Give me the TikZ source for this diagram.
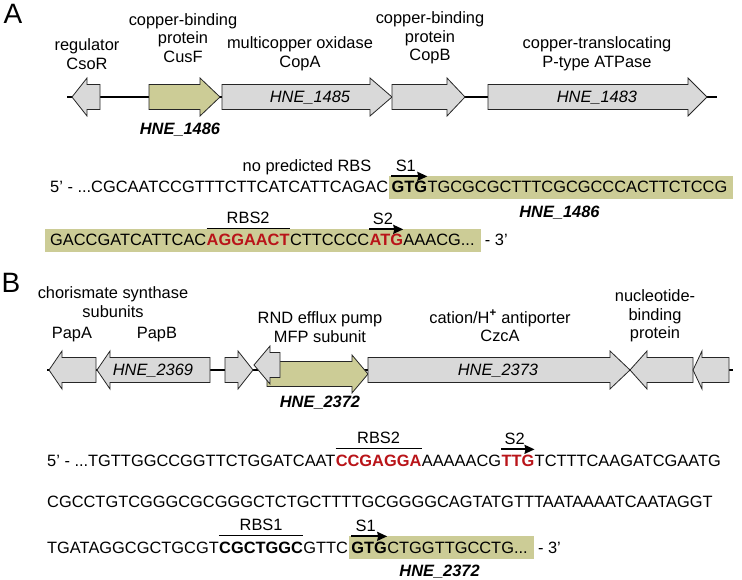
\documentclass[tikz,border=0pt]{standalone}
\usepackage{fontspec}
\setmainfont{Liberation Sans}
\usepackage{tikz}
\usetikzlibrary{
  arrows.meta,
  positioning,
  calc,
  backgrounds
}
\usepackage{xcolor}
\definecolor{geneGray}{RGB}{217,217,217}
\definecolor{geneOlive}{RGB}{204,204,150}
\definecolor{rbsRed}{RGB}{185,20,25}
\newcommand{\seqfont}{\fontsize{16.4}{18.5}\selectfont}
\tikzset{
  seq/.style={inner sep=0pt, anchor=base west, font=\seqfont},
  hit/.style={seq, font=\seqfont\bfseries, text=rbsRed},
  codon/.style={seq, font=\seqfont\bfseries},
  tag/.style={inner sep=0pt, font=\seqfont},
  desc/.style={align=center, inner sep=0pt, font=\seqfont},
  genename/.style={inner sep=0pt, font=\seqfont\itshape},
  focusname/.style={inner sep=0pt, font=\seqfont\bfseries\itshape}
}

\begin{document}
\begin{tikzpicture}[
      x=1pt, y=-1pt,
      >=Stealth,
      gene/.style={draw=black!85, line width=0.8pt, line join=miter},
      backbone/.style={line width=1.4pt},
      rbsbar/.style={line width=1.4pt},
      startarrow/.style={line width=1.8pt, arrows={-Stealth[length=10pt, width=9pt, inset=1pt]}},
      panel/.style={inner sep=0pt, font=\fontsize{28}{30}\selectfont}
      ]
      \useasboundingbox (0,0) rectangle (742,580);

      % panel A: operon
      \node[panel] (panelA) at (13,14) {A};
      \draw[backbone] (67,97) -- (717,97);
      \foreach \from/\neck/\tip/\y/\col in {100/87/72/97/geneGray, 149/200/220/97/geneOlive,
        222/370/392/97/geneGray, 392/447/465/97/geneGray, 488/688/707/97/geneGray}{
        \filldraw[gene, fill=\col] (\from,\y-12.5) -- (\neck,\y-12.5) -- (\neck,\y-19)
          -- (\tip,\y) -- (\neck,\y+19) -- (\neck,\y+12.5) -- (\from,\y+12.5) -- cycle;
      }
      \node[genename] (copaname) at (310,98) {HNE\_1485};
      \node[genename] (atpname) at (597,98) {HNE\_1483};
      \node[focusname] (cusfname) at (180,130) {HNE\_1486};

      \node[desc] (csor) at (87,54) {regulator\\CsoR};
      \node[desc] (cusf) at (183,38) {copper-binding\\protein\\CusF};
      \node[desc] (copa) at (300,54) {multicopper oxidase\\CopA};
      \node[desc] (copb) at (430,38) {copper-binding\\protein\\CopB};
      \node[desc] (atpase) at (597,54) {copper-translocating\\P-type ATPase};

      % panel A: sequence
      \node[seq] (a1pre) at (50,193) {5’ - ...CGCAATCCGTTTCTTCATCATTCAGAC};
      \node[codon] (a1gtg) at ($(a1pre.base east)+(3,0)$) {GTG};
      \node[seq] (a1rest) at (a1gtg.base east) {TGCGCGCTTTCGCGCCCACTTCTCCG};
      \node[tag] (norbs) at (307,167) {no predicted RBS};

      \node[seq] (a2pre) at (50,246) {GACCGATCATTCAC};
      \node[hit] (a2rbs) at (a2pre.base east) {AGGAACT};
      \node[seq] (a2mid) at (a2rbs.base east) {CTTCCCC};
      \node[hit] (a2atg) at (a2mid.base east) {ATG};
      \node[seq] (a2rest) at (a2atg.base east) {AAACG...};
      \node[seq] (a2end) at ($(a2rest.base east)+(10,0)$) {- 3’};

      \begin{scope}[on background layer]
        \fill[geneOlive] ($(a1gtg.base west)+(-2,-17)$) rectangle ($(a1rest.base east)+(6,6)$);
        \fill[geneOlive] ($(a2pre.base west)+(-5,-17)$) rectangle ($(a2rest.base east)+(6,6)$);
      \end{scope}
      \node[focusname] (a1name) at ($(a1gtg.base west)!0.5!(a1rest.base east)+(0,20)$) {HNE\_1486};

      \draw[startarrow] ($(a1gtg.north west)+(0,-5)$) -- ($(a1gtg.north east)+(0,-5)$)
        node[tag, pos=0.4, above=4pt] (s1A) {S1};
      \draw[rbsbar] ($(a2rbs.north west)+(0,-6)$) -- ($(a2rbs.north east)+(0,-6)$)
        node[tag, midway, above=4pt] (rbs2A) {RBS2};
      \draw[startarrow] ($(a2atg.north west)+(0,-5)$) -- ($(a2atg.north east)+(0,-5)$)
        node[tag, pos=0.4, above=4pt] (s2A) {S2};

      % panel B: operon
      \node[panel] (panelB) at (11,283) {B};
      \draw[backbone] (47,370) -- (733,370);
      \foreach \from/\neck/\tip/\y/\col in {96/62/49/370/geneGray, 210/110/97/370/geneGray,
        225/238/253/370/geneGray, 267/352/368/374/geneOlive, 280/270/254/365/geneGray,
        368/610/630/370/geneGray, 693/647/630/370/geneGray, 729/702/693/370/geneGray}{
        \filldraw[gene, fill=\col] (\from,\y-12.5) -- (\neck,\y-12.5) -- (\neck,\y-19)
          -- (\tip,\y) -- (\neck,\y+19) -- (\neck,\y+12.5) -- (\from,\y+12.5) -- cycle;
      }
      \node[genename] (papbname) at (153,371) {HNE\_2369};
      \node[genename] (czcaname) at (498,371) {HNE\_2373};
      \node[focusname] (mfpname) at (320,403) {HNE\_2372};

      \node[desc] (chorismate) at (113,302) {chorismate synthase\\subunits};
      \node[desc] (papa) at (72,335) {PapA};
      \node[desc] (papb) at (157,335) {PapB};
      \node[desc] (mfp) at (320,327) {RND efflux pump\\MFP subunit};
      \node[desc] (czca) at (500,326) {cation/H\textsuperscript{\textbf{+}} antiporter\\CzcA};
      \node[desc] (nbp) at (655,316) {nucleotide-\\binding\\protein};

      % panel B: sequence
      \node[seq] (b1pre) at (47,466) {5’ - ...TGTTGGCCGGTTCTGGATCAAT};
      \node[hit] (b1rbs) at (b1pre.base east) {CCGAGGA};
      \node[seq] (b1mid) at (b1rbs.base east) {AAAAACG};
      \node[hit] (b1ttg) at (b1mid.base east) {TTG};
      \node[seq] (b1rest) at (b1ttg.base east) {TCTTTCAAGATCGAATG};

      \node[seq] (b2) at (47,507) {CGCCTGTCGGGCGCGGGCTCTGCTTTTGCGGGGCAGTATGTTTAATAAAATCAATAGGT};

      \node[seq] (b3pre) at (47,553) {TGATAGGCGCTGCGT};
      \node[codon] (b3rbs) at (b3pre.base east) {CGCTGGC};
      \node[seq] (b3mid) at (b3rbs.base east) {GTTC};
      \node[codon] (b3gtg) at ($(b3mid.base east)+(3,0)$) {GTG};
      \node[seq] (b3rest) at (b3gtg.base east) {CTGGTTGCCTG...};
      \node[seq] (b3end) at ($(b3rest.base east)+(10,0)$) {- 3’};

      \begin{scope}[on background layer]
        \fill[geneOlive] ($(b3gtg.base west)+(-2,-17)$) rectangle ($(b3rest.base east)+(6,6)$);
      \end{scope}
      \node[focusname] (b3name) at ($(b3gtg.base west)!0.5!(b3rest.base east)+(0,19)$) {HNE\_2372};

      \draw[rbsbar] ($(b1rbs.north west)+(0,-6)$) -- ($(b1rbs.north east)+(0,-6)$)
        node[tag, midway, above=4pt] (rbs2B) {RBS2};
      \draw[startarrow] ($(b1ttg.north west)+(0,-5)$) -- ($(b1ttg.north east)+(0,-5)$)
        node[tag, pos=0.4, above=4pt] (s2B) {S2};
      \draw[rbsbar] ($(b3rbs.north west)+(0,-6)$) -- ($(b3rbs.north east)+(0,-6)$)
        node[tag, midway, above=4pt] (rbs1B) {RBS1};
      \draw[startarrow] ($(b3gtg.north west)+(0,-5)$) -- ($(b3gtg.north east)+(0,-5)$)
        node[tag, pos=0.4, above=4pt] (s1B) {S1};
    \end{tikzpicture}
\end{document}
